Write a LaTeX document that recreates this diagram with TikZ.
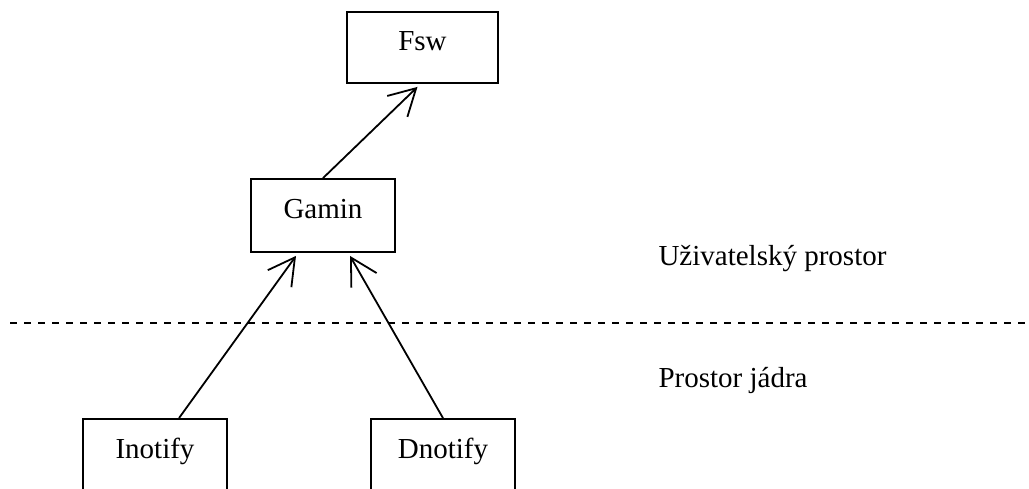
\documentclass[tikz,border=0pt]{standalone}
\usepackage{fontspec}
\setmainfont{Liberation Serif}
\usetikzlibrary{arrows.meta, positioning}

\begin{document}
\begin{tikzpicture}[x=1pt, y=-1pt,
  box/.style={draw, line width=1.8pt, inner sep=0pt, minimum width=144pt,
    font=\fontsize{29}{35}\selectfont},
  arr/.style={line width=1.8pt, -{Straight Barb[angle=58:30pt, line width=1.8pt]}},
  lbl/.style={anchor=base west, font=\fontsize{29}{35}\selectfont}]

% ============================================================
% 画布
% ============================================================
\useasboundingbox (0,0) rectangle (1029,488);
\clip (0,0) rectangle (1029,488);

% 节点
\node[box, minimum width=151pt, text height=38pt, text depth=33pt] (fsw) at (422.5,47.5) {Fsw};
\node[box, text height=39pt, text depth=34pt] (gamin) at (323,215.5) {Gamin};
\node[box, text height=39pt, text depth=41pt] (inotify) at (155,459) {Inotify};
\node[box, text height=39pt, text depth=41pt] (dnotify) at (443,459) {Dnotify};

% 连线
\draw[arr] (gamin.north) -- ([xshift=-5pt, yshift=-3pt]fsw.south);
\draw[arr] ([xshift=24pt]inotify.north) -- ([xshift=-27pt, yshift=-3pt]gamin.south);
\draw[arr] (dnotify.north) -- ([xshift=27pt, yshift=-3pt]gamin.south);

% 分隔线
\draw[line width=1.8pt, dash pattern=on 7pt off 7pt] (10,323) -- (1029,323);

% 区域标注
\node[lbl] (user) at (655,265) {Uživatelský prostor};
\node[lbl] (kernel) at (655,387) {Prostor jádra};

\end{tikzpicture}
\end{document}
